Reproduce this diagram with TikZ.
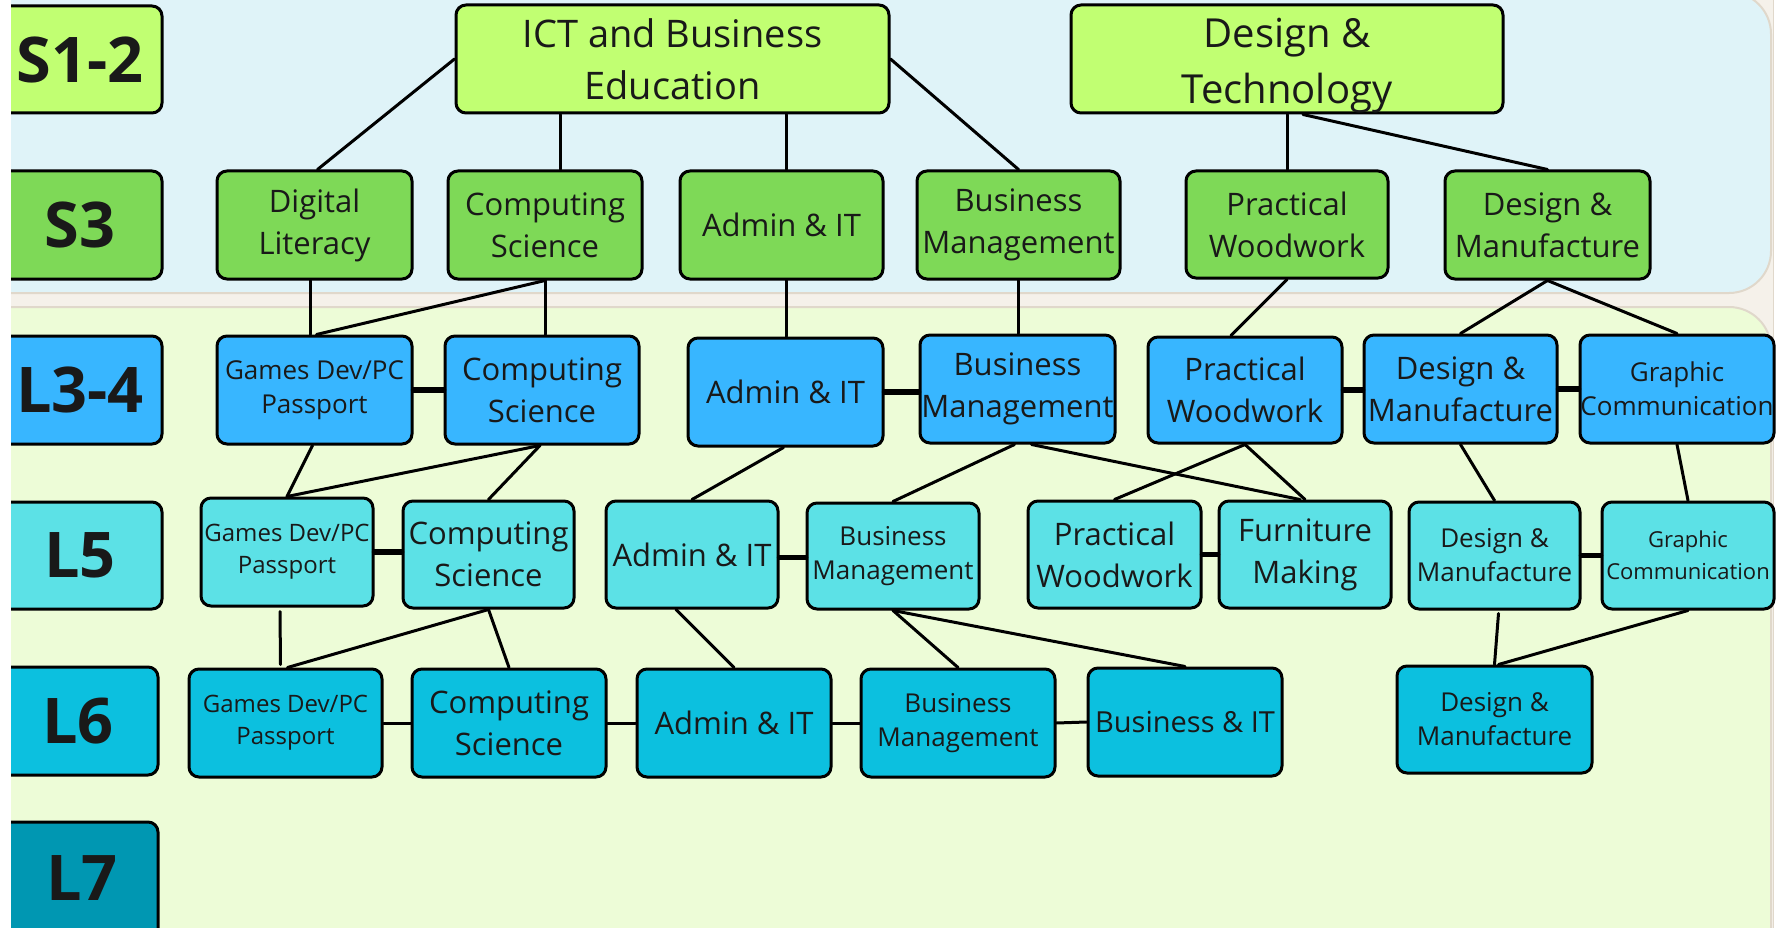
\documentclass[tikz,border=0pt]{standalone}
\usepackage{fontspec}
\setmainfont{Open Sans}
\definecolor{cLime}{HTML}{C1FF72}
\definecolor{cGreen}{HTML}{7ED957}
\definecolor{cBlue}{HTML}{38B6FF}
\definecolor{cCyan}{HTML}{5CE1E6}
\definecolor{cTeal}{HTML}{0CC0DF}
\definecolor{cDark}{HTML}{0097B2}
\definecolor{bgBlue}{HTML}{DFF3F8}
\definecolor{bgGreen}{HTML}{EDFCD7}
\definecolor{bgBeige}{HTML}{F5F1EA}
\definecolor{bgEdge}{HTML}{E0D8CB}
\newcommand\Bx[7]{\node[bx,#6,minimum width={(#4)-(#2)},minimum height={(#5)-(#3)}] (#1) at ({((#2)+(#4))/2},{((#3)+(#5))/2}) {#7};}
\newcommand\fs[2]{\fontsize{#1}{#2}\selectfont}
\begin{document}
\begin{tikzpicture}[x=1pt,y=-1pt,
  bx/.style={draw=black,line width=3pt,rounded corners=10pt,align=center,inner sep=0pt,text=black!90},
  lbl/.style={font=\fs{63}{70}\bfseries},
  big/.style={font=\fs{31}{42}},
  mid/.style={font=\fs{26}{34}},
  sml/.style={font=\fs{24}{32}},
  link/.style={line width=3pt,line cap=round},
  bond/.style={line width=5.5pt,line cap=round}]
\useasboundingbox (0,0) rectangle (1778,928);
\fill[white] (0,0) rectangle (1778,928);
\fill[bgBeige] (11,0) rectangle (1773,928);
\draw[bgEdge,line width=0.8pt] (1773,0) -- (1773,928);
\filldraw[fill=bgBlue,draw=bgEdge,line width=2pt,rounded corners=42pt] (-40,-8) rectangle (1771,293);
\filldraw[fill=bgGreen,draw=bgEdge,line width=2pt,rounded corners=42pt] (-40,307) rectangle (1771,1000);
% level labels
\Bx{LS12}{-2}{6}{162}{113}{fill=cLime,lbl}{S1-2}
\Bx{LS3}{-2}{171}{162}{279}{fill=cGreen,lbl}{S3}
\Bx{LL34}{-2}{336}{162}{444}{fill=cBlue,lbl}{L3-4}
\Bx{LL5}{-2}{502}{162}{609}{fill=cCyan,lbl}{L5}
\Bx{LL6}{-2}{667}{158}{775}{fill=cTeal,lbl}{L6}
\Bx{LL7}{-2}{822}{158}{945}{fill=cDark,lbl}{}
\node[font=\fs{63}{70}\bfseries,text=black!90] (LL7t) at (82,878) {L7};
% top row
\Bx{ict}{456}{5}{889}{113}{fill=cLime,font=\fs{38}{52}}{ICT and Business\\Education}
\Bx{dt}{1071}{5}{1503}{113}{fill=cLime,font=\fs{40}{56}}{}
\node[font=\fs{40}{56},align=center,text=black!90] (dtt) at ([yshift=-7pt]dt.center) {Design \&\\Technology};
% S3
\Bx{dl}{217}{171}{412}{279}{fill=cGreen,big}{Digital\\Literacy}
\Bx{cs3}{448}{171}{642}{279}{fill=cGreen,big}{Computing\\Science}
\Bx{ad3}{680}{171}{883}{279}{fill=cGreen,big}{Admin \& IT}
\Bx{bm3}{917}{171}{1120}{279}{fill=cGreen,big}{Business\\Management}
\Bx{pw3}{1186}{171}{1388}{278}{fill=cGreen,big}{Practical\\Woodwork}
\Bx{dm3}{1445}{171}{1650}{279}{fill=cGreen,big}{Design \&\\Manufacture}
% L3-4
\Bx{gd4}{217}{336}{412}{444}{fill=cBlue,mid}{Games Dev/PC\\Passport}
\Bx{cs4}{445}{336}{639}{444}{fill=cBlue,big}{Computing\\Science}
\Bx{ad4}{688}{338}{883}{446}{fill=cBlue,big}{Admin \& IT}
\Bx{bm4}{920}{335}{1115}{443}{fill=cBlue,big}{Business\\Management}
\Bx{pw4}{1148}{337}{1342}{443}{fill=cBlue,big}{Practical\\Woodwork}
\Bx{dm4}{1364}{335}{1557}{443}{fill=cBlue,big}{Design \&\\Manufacture}
\Bx{gc4}{1580}{335}{1774}{443}{fill=cBlue,mid}{Graphic\\Communication}
% L5
\Bx{gd5}{201}{498}{373}{606}{fill=cCyan,sml}{Games Dev/PC\\Passport}
\Bx{cs5}{403}{501}{574}{608}{fill=cCyan,big}{Computing\\Science}
\Bx{ad5}{606}{501}{778}{608}{fill=cCyan,big}{Admin \& IT}
\Bx{bm5}{807}{503}{979}{609}{fill=cCyan,mid}{Business\\Management}
\Bx{pw5}{1028}{501}{1201}{608}{fill=cCyan,big}{Practical\\Woodwork}
\Bx{fm5}{1219}{501}{1391}{608}{fill=cCyan,big}{Furniture\\Making}
\Bx{dm5}{1409}{502}{1580}{609}{fill=cCyan,mid}{Design \&\\Manufacture}
\Bx{gc5}{1602}{502}{1774}{609}{fill=cCyan,font=\fs{22}{32}}{Graphic\\Communication}
% L6
\Bx{gd6}{189}{669}{382}{777}{fill=cTeal,sml}{Games Dev/PC\\Passport}
\Bx{cs6}{412}{669}{606}{777}{fill=cTeal,big}{Computing\\Science}
\Bx{ad6}{637}{669}{831}{777}{fill=cTeal,big}{Admin \& IT}
\Bx{bm6}{861}{669}{1055}{777}{fill=cTeal,mid}{Business\\Management}
\Bx{bi6}{1088}{668}{1282}{776}{fill=cTeal,font=\fs{29}{38}}{Business \& IT}
\Bx{dm6}{1397}{666}{1592}{773}{fill=cTeal,mid}{Design \&\\Manufacture}
% connectors top -> S3
\draw[link] (ict.west) -- ([xshift=3pt]dl.north);
\draw[link] ([xshift=15pt]cs3.north) -- ([xshift=15pt]cs3.north |- ict.south);
\draw[link] ([xshift=5pt]ad3.north) -- ([xshift=5pt]ad3.north |- ict.south);
\draw[link] (ict.east) -- (bm3.north);
\draw[link] (pw3.north) -- (pw3.north |- dt.south);
\draw[link] ([xshift=16pt]dt.south) -- (dm3.north);
% S3 -> L3-4
\draw[link] ([xshift=-4pt]dl.south) -- ([xshift=-4pt]gd4.north);
\draw[link] (cs3.south) -- ([xshift=2pt]gd4.north);
\draw[link] (cs3.south) -- (cs3.south |- cs4.north);
\draw[link] ([xshift=5pt]ad3.south) -- ([xshift=5pt]ad3.south |- ad4.north);
\draw[link] (bm3.south) -- (bm3.south |- bm4.north);
\draw[link] (pw3.south) -- ([xshift=-14pt]pw4.north);
\draw[link] (dm3.south) -- (dm4.north);
\draw[link] (dm3.south) -- (gc4.north);
% L3-4 bonds
\draw[bond] (gd4.east) -- (cs4.west |- gd4.east);
\draw[bond] (ad4.east) -- (bm4.west |- ad4.east);
\draw[bond] (pw4.east) -- (dm4.west |- pw4.east);
\draw[bond] (dm4.east) -- (gc4.west |- dm4.east);
% L3-4 -> L5
\draw[link] ([xshift=-2pt]gd4.south) -- (gd5.north);
\draw[link] ([xshift=-2pt]cs4.south) -- (gd5.north);
\draw[link] ([xshift=-2pt]cs4.south) -- (cs5.north);
\draw[link] ([xshift=-2pt]ad4.south) -- (ad5.north);
\draw[link] ([xshift=-3pt]bm4.south) -- (bm5.north);
\draw[link] ([xshift=14pt]bm4.south) -- ([xshift=-5pt]fm5.north);
\draw[link] (pw4.south) -- (pw5.north);
\draw[link] (pw4.south) -- (fm5.north);
\draw[link] (dm4.south) -- (dm5.north);
\draw[link] (gc4.south) -- (gc5.north);
% L5 bonds
\draw[bond] (gd5.east) -- (cs5.west |- gd5.east);
\draw[bond] ([yshift=-3pt]ad5.east) -- ([yshift=-3pt]bm5.west |- ad5.east);
\draw[bond] (pw5.east) -- (fm5.west |- pw5.east);
\draw[bond] (dm5.east) -- (gc5.west |- dm5.east);
% L5 -> L6
\draw[link] ([xshift=-7pt,yshift=-4pt]gd5.south) -- ([xshift=-5pt,yshift=3pt]gd6.north);
\draw[link] (cs5.south) -- ([xshift=2pt]gd6.north);
\draw[link] (cs5.south) -- (cs6.north);
\draw[link] ([xshift=-16pt]ad5.south) -- (ad6.north);
\draw[link] (bm5.south) -- (bm6.north);
\draw[link] (bm5.south) -- (bi6.north);
\draw[link] ([xshift=4pt,yshift=-3pt]dm5.south) -- (dm6.north);
\draw[link] (gc5.south) -- ([xshift=4pt]dm6.north);
% L6 links
\draw[link] (gd6.east) -- (cs6.west);
\draw[link] (cs6.east) -- (ad6.west);
\draw[link] (ad6.east) -- (bm6.west);
\draw[link] (bm6.east) -- (bi6.west);
% white margin
\fill[white] (0,0) rectangle (11,928);
\end{tikzpicture}
\end{document}
